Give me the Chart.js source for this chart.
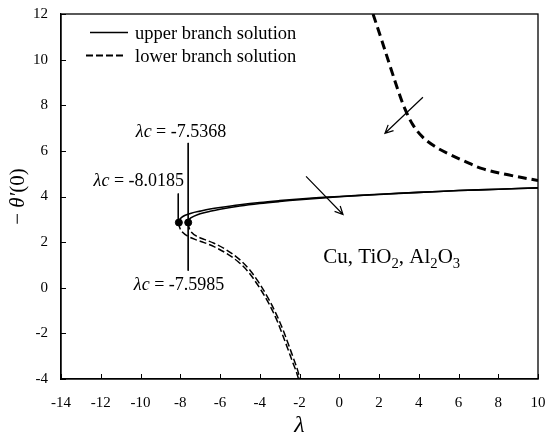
<!DOCTYPE html>
<html>
<head>
<meta charset="utf-8">
<script src="https://cdn.jsdelivr.net/npm/chart.js@4.4.1/dist/chart.umd.min.js"></script>
<style>
  html, body { margin: 0; padding: 0; background: #fff; }
</style>
</head>
<body>
<canvas id="myChart" width="550" height="439"></canvas>
<script>
'use strict';

// tick values on both axes
const xTicks = [-14, -12, -10, -8, -6, -4, -2, 0, 2, 4, 6, 8, 10];
const yTicks = [-4, -2, 0, 2, 4, 6, 8, 10, 12];

// upper branch (solid), two curves
const upperOuterX = [-8.07, -8.03, -7.93, -7.75, -7.45, -7.0, -6.5, -6, -5, -4, -3, -2, -1, 0, 2, 4, 6, 8, 10];
const upperOuterY = [2.86, 2.99, 3.09, 3.18, 3.27, 3.36, 3.45, 3.52, 3.64, 3.74, 3.82, 3.89, 3.95, 4.0, 4.1, 4.18, 4.26, 4.32, 4.38];
const upperInnerX = [-7.6, -7.56, -7.47, -7.3, -7.0, -6.5, -6, -5, -4, -3, -2, -1, 0, 2, 4, 6, 8, 10];
const upperInnerY = [2.86, 2.97, 3.06, 3.14, 3.24, 3.35, 3.44, 3.58, 3.69, 3.78, 3.86, 3.93, 3.99, 4.09, 4.18, 4.26, 4.32, 4.38];

// lower branch (dashed), two curves from the turning points
const lowerOuterX = [-8.07, -8.02, -7.87, -7.6, -7.2, -6.8, -6.3, -5.7, -5.1, -4.6, -4.1, -3.6, -3.2, -2.9, -2.6, -2.35, -2.15, -2.05];
const lowerOuterY = [2.86, 2.62, 2.42, 2.25, 2.1, 1.98, 1.8, 1.52, 1.15, 0.72, 0.12, -0.6, -1.3, -1.95, -2.65, -3.25, -3.7, -4];
const lowerInnerX = [-7.6, -7.55, -7.45, -7.2, -6.8, -6.3, -5.7, -5.1, -4.6, -4.1, -3.6, -3.2, -2.85, -2.55, -2.3, -2.1, -1.98];
const lowerInnerY = [2.86, 2.62, 2.45, 2.27, 2.12, 1.95, 1.67, 1.3, 0.88, 0.3, -0.42, -1.1, -1.8, -2.5, -3.1, -3.6, -4];

// lower branch, right part (dashed, top right)
const lowerRightX = [1.7, 2.1, 2.6, 3.0, 3.3, 3.7, 4.2, 4.8, 5.5, 6.3, 7.2, 8.5, 10];
const lowerRightY = [12, 10.95, 9.6, 8.55, 7.85, 7.15, 6.6, 6.2, 5.87, 5.55, 5.22, 4.95, 4.7];

// critical points
const criticalX = [-8.07, -7.6];
const criticalY = [2.86, 2.86];

// callouts: vertical lines and their labels
const calloutValues = ['-7.5368', '-8.0185', '-7.5985'];
const calloutLineX = [-7.6, -8.1, -7.6];
const calloutLineTop = [6.35, 4.13, 2.86];
const calloutLineBottom = [2.86, 2.86, 0.75];
const calloutLabelX = [-7.96, -7.81, -8.06];
const calloutLabelY = [6.59, 4.44, -0.09];
const calloutAlign = ['center', 'right', 'center'];

// arrows (tail -> head)
const arrowFromX = [-1.67, 4.21];
const arrowFromY = [4.88, 8.35];
const arrowToX = [0.19, 2.3];
const arrowToY = [3.21, 6.77];

const serif = '"Liberation Serif", "DejaVu Serif", serif';

function toPoints(xs, ys){
	return xs.map((v, i) => ({x: v, y: ys[i]}));
}

function lineSet(xs, ys, dash, width){
	return {
		data: toPoints(xs, ys),
		showLine: true,
		borderColor: '#000',
		borderWidth: width,
		borderDash: dash,
		pointRadius: 0,
		tension: 0.35,
		fill: false
	};
}

const datasets = [
	lineSet(upperOuterX, upperOuterY, [], 1.6),
	lineSet(upperInnerX, upperInnerY, [], 1.6),
	lineSet(lowerOuterX, lowerOuterY, [7, 3], 1.5),
	lineSet(lowerInnerX, lowerInnerY, [7, 3], 1.5),
	lineSet(lowerRightX, lowerRightY, [9, 5], 3)
];

for (let i = 0; i < calloutLineX.length; i++){
	datasets.push({
		data: [{x: calloutLineX[i], y: calloutLineTop[i]}, {x: calloutLineX[i], y: calloutLineBottom[i]}],
		showLine: true,
		borderColor: '#000',
		borderWidth: 1,
		pointRadius: 0
	});
}

datasets.push({
	data: toPoints(criticalX, criticalY),
	showLine: false,
	pointRadius: 3.5,
	pointBackgroundColor: '#000',
	pointBorderColor: '#000'
});

function drawArrow(ctx, x1, y1, x2, y2){
	const ang = Math.atan2(y2 - y1, x2 - x1);
	const len = 9;
	ctx.beginPath();
	ctx.moveTo(x1, y1);
	ctx.lineTo(x2, y2);
	ctx.moveTo(x2 - len * Math.cos(ang - 0.45), y2 - len * Math.sin(ang - 0.45));
	ctx.lineTo(x2, y2);
	ctx.lineTo(x2 - len * Math.cos(ang + 0.45), y2 - len * Math.sin(ang + 0.45));
	ctx.stroke();
}

// draws text pieces [text, italic, subscript] in a row
function drawRich(ctx, pieces, x, y, size, align){
	const widths = pieces.map(p => {
		ctx.font = (p[1] ? 'italic ' : '') + (p[2] ? size * 0.7 : size) + 'px ' + serif;
		return ctx.measureText(p[0]).width;
	});
	const total = widths.reduce((a, b) => a + b, 0);
	let cx = x;
	if (align == 'center') cx = x - total / 2;
	if (align == 'right') cx = x - total;
	ctx.textAlign = 'left';
	ctx.textBaseline = 'alphabetic';
	pieces.forEach((p, i) => {
		ctx.font = (p[1] ? 'italic ' : '') + (p[2] ? size * 0.7 : size) + 'px ' + serif;
		ctx.fillText(p[0], cx, p[2] ? y + size * 0.25 : y);
		cx += widths[i];
	});
}

const overlay = {
	id: 'overlay',
	afterDraw(chart){
		const ctx = chart.ctx;
		const a = chart.chartArea;
		const xs = chart.scales.x;
		const ys = chart.scales.y;
		ctx.save();
		ctx.fillStyle = '#000';
		ctx.strokeStyle = '#000';

		// frame
		ctx.lineWidth = 1.3;
		ctx.strokeRect(a.left, a.top, a.right - a.left, a.bottom - a.top);

		// inward ticks
		ctx.lineWidth = 1;
		ctx.beginPath();
		xTicks.forEach(v => {
			const px = Math.round(xs.getPixelForValue(v)) + 0.5;
			ctx.moveTo(px, a.bottom);
			ctx.lineTo(px, a.bottom - 5);
		});
		yTicks.forEach(v => {
			const py = Math.round(ys.getPixelForValue(v)) + 0.5;
			ctx.moveTo(a.left, py);
			ctx.lineTo(a.left + 5, py);
		});
		ctx.stroke();

		// arrows
		ctx.lineWidth = 1.2;
		for (let i = 0; i < arrowFromX.length; i++){
			drawArrow(ctx,
				xs.getPixelForValue(arrowFromX[i]), ys.getPixelForValue(arrowFromY[i]),
				xs.getPixelForValue(arrowToX[i]), ys.getPixelForValue(arrowToY[i]));
		}

		// callout labels
		for (let i = 0; i < calloutValues.length; i++){
			drawRich(ctx, [['λc', true, false], [' = ' + calloutValues[i], false, false]],
				xs.getPixelForValue(calloutLabelX[i]), ys.getPixelForValue(calloutLabelY[i]), 18, calloutAlign[i]);
		}

		// nanoparticle text
		drawRich(ctx, [['Cu, TiO', false, false], ['2', false, true], [', Al', false, false], ['2', false, true], ['O', false, false], ['3', false, true]],
			xs.getPixelForValue(-0.8), ys.getPixelForValue(1.1), 21, 'left');

		// legend
		ctx.lineWidth = 1.6;
		ctx.beginPath();
		ctx.moveTo(90, 32.5);
		ctx.lineTo(128, 32.5);
		ctx.stroke();
		ctx.setLineDash([7, 3]);
		ctx.lineWidth = 1.8;
		ctx.beginPath();
		ctx.moveTo(86, 55.5);
		ctx.lineTo(124, 55.5);
		ctx.stroke();
		ctx.setLineDash([]);
		drawRich(ctx, [['upper branch solution', false, false]], 135, 38.5, 18.5, 'left');
		drawRich(ctx, [['lower branch solution', false, false]], 135, 61.5, 18.5, 'left');

		// axis titles
		drawRich(ctx, [['λ', true, false]], (a.left + a.right) / 2, 432, 24, 'center');
		ctx.translate(24, (a.top + a.bottom) / 2);
		ctx.rotate(-Math.PI / 2);
		drawRich(ctx, [['− ', false, false], ['θ′', true, false], ['(0)', false, false]], 0, 0, 21, 'center');

		ctx.restore();
	}
};

const config = {
	type: 'scatter',
	data: { datasets: datasets },
	options: {
		responsive: false,
		animation: false,
		events: [],
		layout: { padding: { top: 14, right: 12, left: 0, bottom: 0 } },
		plugins: { legend: { display: false }, tooltip: { enabled: false } },
		scales: {
			x: {
				type: 'linear',
				min: -14,
				max: 10,
				afterFit: s => {
					s.height = 60;
					s.paddingLeft = 0;
					s.paddingRight = 0;
				},
				afterBuildTicks: s => { s.ticks = xTicks.map(v => ({value: v})); },
				ticks: { color: '#000', padding: 15, font: { family: serif, size: 15 }, maxRotation: 0 },
				grid: { drawOnChartArea: false, drawTicks: false },
				border: { color: '#000', width: 1.3 }
			},
			y: {
				type: 'linear',
				min: -4,
				max: 12,
				afterFit: s => {
					s.width = 61;
					s.paddingTop = 0;
					s.paddingBottom = 0;
				},
				afterBuildTicks: s => { s.ticks = yTicks.map(v => ({value: v})); },
				ticks: { color: '#000', padding: 13, font: { family: serif, size: 15 } },
				grid: { drawOnChartArea: false, drawTicks: false },
				border: { color: '#000', width: 1.3 }
			}
		}
	},
	plugins: [overlay]
};

const myChart = new Chart(document.getElementById('myChart'), config);
</script>
</body>
</html>
